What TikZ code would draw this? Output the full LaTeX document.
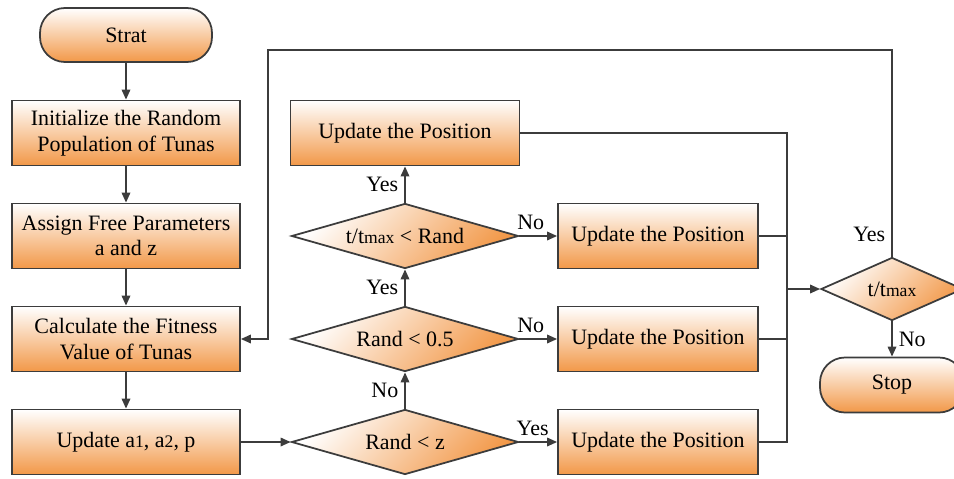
\documentclass[tikz,border=0pt]{standalone}
\usepackage{fontspec}
\setmainfont{Liberation Serif}
\usetikzlibrary{shapes.geometric,arrows.meta}

\definecolor{tuna}{RGB}{242,152,72}
\definecolor{edge}{RGB}{60,60,60}

\begin{document}
\begin{tikzpicture}[x=0.2mm, y=-0.2mm,
  font=\fontsize{12.5}{14.5}\selectfont,
  box/.style={draw=edge, line width=1pt, rectangle, top color=white, bottom color=tuna,
    minimum width=45.6mm, minimum height=13mm, align=center, inner sep=0pt},
  term/.style={box, rounded corners=5mm, minimum width=34.4mm, minimum height=10.8mm},
  dec/.style={draw=edge, line width=1pt, diamond, aspect=3.5, inner sep=0pt,
    minimum width=45.4mm, minimum height=13mm, top color=white, bottom color=tuna, shading angle=45},
  line/.style={draw=edge, line width=1pt},
  arr/.style={line, -{Triangle[length=2mm,width=1.7mm]}}]
\useasboundingbox (0,0) rectangle (954,478);

\node[term] (strat) at (126,35) {Strat};
\node[box] (init) at (126,133) {Initialize the Random\\Population of Tunas};
\node[box] (assign) at (126,236) {Assign Free Parameters\\a and z};
\node[box] (calc) at (126,339) {Calculate the Fitness\\Value of Tunas};
\node[box] (upda) at (126,442) {Update a{\fontsize{10}{12}\selectfont 1}, a{\fontsize{10}{12}\selectfont 2}, p};

\node[box, minimum width=45.8mm] (posa) at (405,133) {Update the Position};
\node[dec] (tr) at (405,236) {t/t{\fontsize{10}{12}\selectfont max} < Rand};
\node[dec] (rh) at (405,339) {Rand < 0.5};
\node[dec] (rz) at (405,442) {Rand < z};

\node[box, minimum width=40mm] (posb) at (658,236) {Update the Position};
\node[box, minimum width=40mm] (posc) at (658,339) {Update the Position};
\node[box, minimum width=40mm] (posd) at (658,442) {Update the Position};

\node[dec, aspect=2, minimum width=28.4mm, minimum height=12.6mm] (tt) at (892,289) {t/t{\fontsize{10}{12}\selectfont max}};
\node[term, minimum width=28.8mm, minimum height=11mm] (stop) at (892,385) {Stop};

\coordinate (cb) at (787,442);
\coordinate (lp) at (268,50);

\draw[arr] (strat) -- (init);
\draw[arr] (init) -- (assign);
\draw[arr] (assign) -- (calc);
\draw[arr] (calc) -- (upda);
\draw[arr] (upda) -- (rz);

\draw[arr] (rz) -- node[midway, left] {No} (rh);
\draw[arr] (rh) -- node[midway, left] {Yes} (tr);
\draw[arr] (tr) -- node[midway, left] {Yes} (posa);
\draw[arr] (tr) -- node[pos=0.3, above] {No} (posb);
\draw[arr] (rh) -- node[pos=0.3, above] {No} (posc);
\draw[arr] (rz) -- node[pos=0.35, above] {Yes} (posd);

\draw[line] (posa.east) -| (cb) -- (posd.east);
\draw[line] (posb.east) -- (posb.east -| cb);
\draw[line] (posc.east) -- (posc.east -| cb);
\draw[arr] (tt.west -| cb) -- (tt.west);

\draw[arr] (tt.north) -- node[pos=0.04, above left] {Yes} (tt.north |- lp) -- (lp) |- (calc.east);
\draw[arr] (tt) -- node[midway, right] {No} (stop);
\end{tikzpicture}
\end{document}
